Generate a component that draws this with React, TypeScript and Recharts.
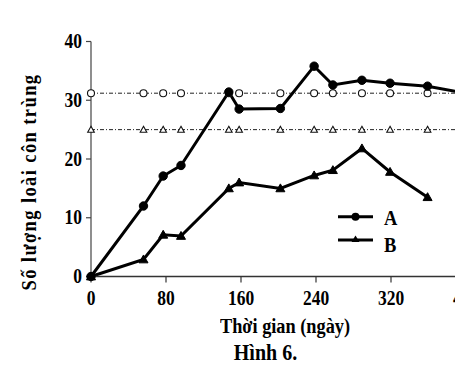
import React from "react";
import { LineChart, Line, XAxis, YAxis } from "recharts";

const days = [0, 56, 77, 96, 147, 158, 202, 238, 258, 289, 319, 359, 400];
const seriesA = [0, 12.0, 17.1, 18.9, 31.4, 28.5, 28.6, 35.8, 32.6, 33.4, 32.9, 32.4, 31.2];
const seriesB = [0, 2.9, 7.1, 6.9, 15.0, 16.0, 15.0, 17.2, 18.1, 21.8, 17.8, 13.5, null];
const controlA = [31.2, 31.2, 31.2, 31.2, 31.2, 31.2, 31.2, 31.2, 31.2, 31.2, 31.2, 31.2, 31.2];
const controlB = [25, 25, 25, 25, 25, 25, 25, 25, 25, 25, 25, 25, 25];
const xTicks = [0, 80, 160, 240, 320, 400];
const yTicks = [0, 10, 20, 30, 40];

const data = days.map((d, i) => ({
  day: d,
  a: seriesA[i],
  b: seriesB[i],
  ca: controlA[i],
  cb: controlB[i],
}));

const FONT = "'Liberation Serif', 'Times New Roman', serif";

const FilledCircle = (props: any) => {
  const { cx, cy, index } = props;
  if (cx == null || cy == null) return <g key={`fa-${index}`} />;
  return <circle key={`fa-${index}`} cx={cx} cy={cy} r={4.2} fill="#000" stroke="#000" strokeWidth={1} />;
};

const FilledTriangle = (props: any) => {
  const { cx, cy, index, value } = props;
  if (cx == null || cy == null || value == null) return <g key={`fb-${index}`} />;
  const s = 4.5;
  return (
    <polygon
      key={`fb-${index}`}
      points={`${cx},${cy - s} ${cx + s},${cy + s * 0.75} ${cx - s},${cy + s * 0.75}`}
      fill="#000"
      stroke="#000"
      strokeWidth={1}
    />
  );
};

const OpenCircle = (props: any) => {
  const { cx, cy, index } = props;
  if (cx == null || cy == null) return <g key={`oa-${index}`} />;
  return <circle key={`oa-${index}`} cx={cx} cy={cy} r={3.5} fill="#fff" stroke="#111" strokeWidth={1.1} />;
};

const OpenTriangle = (props: any) => {
  const { cx, cy, index } = props;
  if (cx == null || cy == null) return <g key={`ob-${index}`} />;
  const s = 3.3;
  return (
    <polygon
      key={`ob-${index}`}
      points={`${cx},${cy - s} ${cx + s},${cy + s * 0.8} ${cx - s},${cy + s * 0.8}`}
      fill="#fff"
      stroke="#111"
      strokeWidth={1.1}
    />
  );
};

const tickFont = { fontFamily: FONT, fontWeight: 700, fontSize: 17.5 };

const XTick = (props: any) => {
  const { x, y, payload } = props;
  return (
    <text
      transform={`translate(${x},${y + 22.5}) scale(1,1.15)`}
      textAnchor="middle"
      fill="#000"
      style={tickFont}
    >
      {payload.value}
    </text>
  );
};

const YTick = (props: any) => {
  const { x, y, payload } = props;
  return (
    <text
      transform={`translate(${x},${y + 6.5}) scale(1,1.15)`}
      textAnchor="end"
      fill="#000"
      style={tickFont}
    >
      {payload.value}
    </text>
  );
};

export default function App() {
  return (
    <div style={{ position: "relative", width: 447, height: 372, overflow: "hidden", background: "#fff" }}>
      <LineChart
        width={520}
        height={372}
        data={data}
        margin={{ top: 33.5, right: 62, bottom: 73.5, left: 23 }}
      >
        <XAxis
          dataKey="day"
          type="number"
          domain={[0, 400]}
          ticks={xTicks}
          interval={0}
          height={30}
          tickSize={6}
          tickMargin={0}
          tick={<XTick />}
          axisLine={{ stroke: "#333", strokeWidth: 1.6 }}
          tickLine={{ stroke: "#333", strokeWidth: 1.2 }}
        />
        <YAxis
          type="number"
          domain={[0, 40]}
          ticks={yTicks}
          interval={0}
          width={60}
          tickSize={5}
          tickMargin={4}
          tick={<YTick />}
          axisLine={{ stroke: "#444", strokeWidth: 1.2 }}
          tickLine={{ stroke: "#444", strokeWidth: 1.2 }}
        />
        <Line
          dataKey="ca"
          stroke="#222"
          strokeWidth={1}
          strokeDasharray="4 2 1 2"
          dot={OpenCircle}
          activeDot={false}
          isAnimationActive={false}
        />
        <Line
          dataKey="cb"
          stroke="#222"
          strokeWidth={1}
          strokeDasharray="4 2 1 2"
          dot={OpenTriangle}
          activeDot={false}
          isAnimationActive={false}
        />
        <Line
          dataKey="a"
          stroke="#000"
          strokeWidth={3}
          dot={FilledCircle}
          activeDot={false}
          isAnimationActive={false}
        />
        <Line
          dataKey="b"
          stroke="#000"
          strokeWidth={3}
          dot={FilledTriangle}
          activeDot={false}
          connectNulls={false}
          isAnimationActive={false}
        />
      </LineChart>

      {/* Legend */}
      <svg
        width={100}
        height={60}
        style={{ position: "absolute", left: 320, top: 190, overflow: "visible" }}
      >
        <line x1={10} y1={18.7} x2={45} y2={18.7} stroke="#000" strokeWidth={3} />
        <circle cx={27.5} cy={18.7} r={4} fill="#000" />
        <text
          transform="translate(56,27) scale(1,1.1)"
          style={{ fontFamily: FONT, fontWeight: 700, fontSize: 18.5 }}
          fill="#000"
        >
          A
        </text>
        <line x1={10} y1={42} x2={45} y2={42} stroke="#000" strokeWidth={3} />
        <polygon points="27.5,37.5 31.5,44 23.5,44" fill="#000" />
        <text
          transform="translate(56,53.7) scale(1,1.1)"
          style={{ fontFamily: FONT, fontWeight: 700, fontSize: 18.5 }}
          fill="#000"
        >
          B
        </text>
      </svg>

      {/* Y axis title */}
      <div
        style={{
          position: "absolute",
          left: 21 - 150,
          top: 173.5 - 9,
          width: 300,
          height: 18,
          lineHeight: "18px",
          textAlign: "center",
          transform: "rotate(-90deg) scaleY(1.15)",
          transformOrigin: "150px 9px",
          fontFamily: FONT,
          fontWeight: 700,
          fontSize: 18.5,
          letterSpacing: 1.4,
          whiteSpace: "nowrap",
          color: "#000",
        }}
      >
        Số lượng loài côn trùng
      </div>

      {/* X axis title */}
      <div
        style={{
          position: "absolute",
          left: 277 - 150,
          top: 310.2,
          width: 300,
          height: 18,
          lineHeight: "18px",
          textAlign: "center",
          transform: "scaleY(1.17)",
          transformOrigin: "150px 15px",
          fontFamily: FONT,
          fontWeight: 700,
          fontSize: 18.3,
          whiteSpace: "nowrap",
          color: "#000",
        }}
      >
        Thời gian (ngày)
      </div>

      {/* Figure caption */}
      <div
        style={{
          position: "absolute",
          left: 257.5 - 100,
          top: 335.3,
          width: 200,
          height: 20,
          lineHeight: "20px",
          textAlign: "center",
          transform: "scaleY(1.2)",
          transformOrigin: "100px 16.7px",
          fontFamily: FONT,
          fontWeight: 700,
          fontSize: 20,
          whiteSpace: "nowrap",
          color: "#000",
        }}
      >
        Hình 6.
      </div>
    </div>
  );
}
